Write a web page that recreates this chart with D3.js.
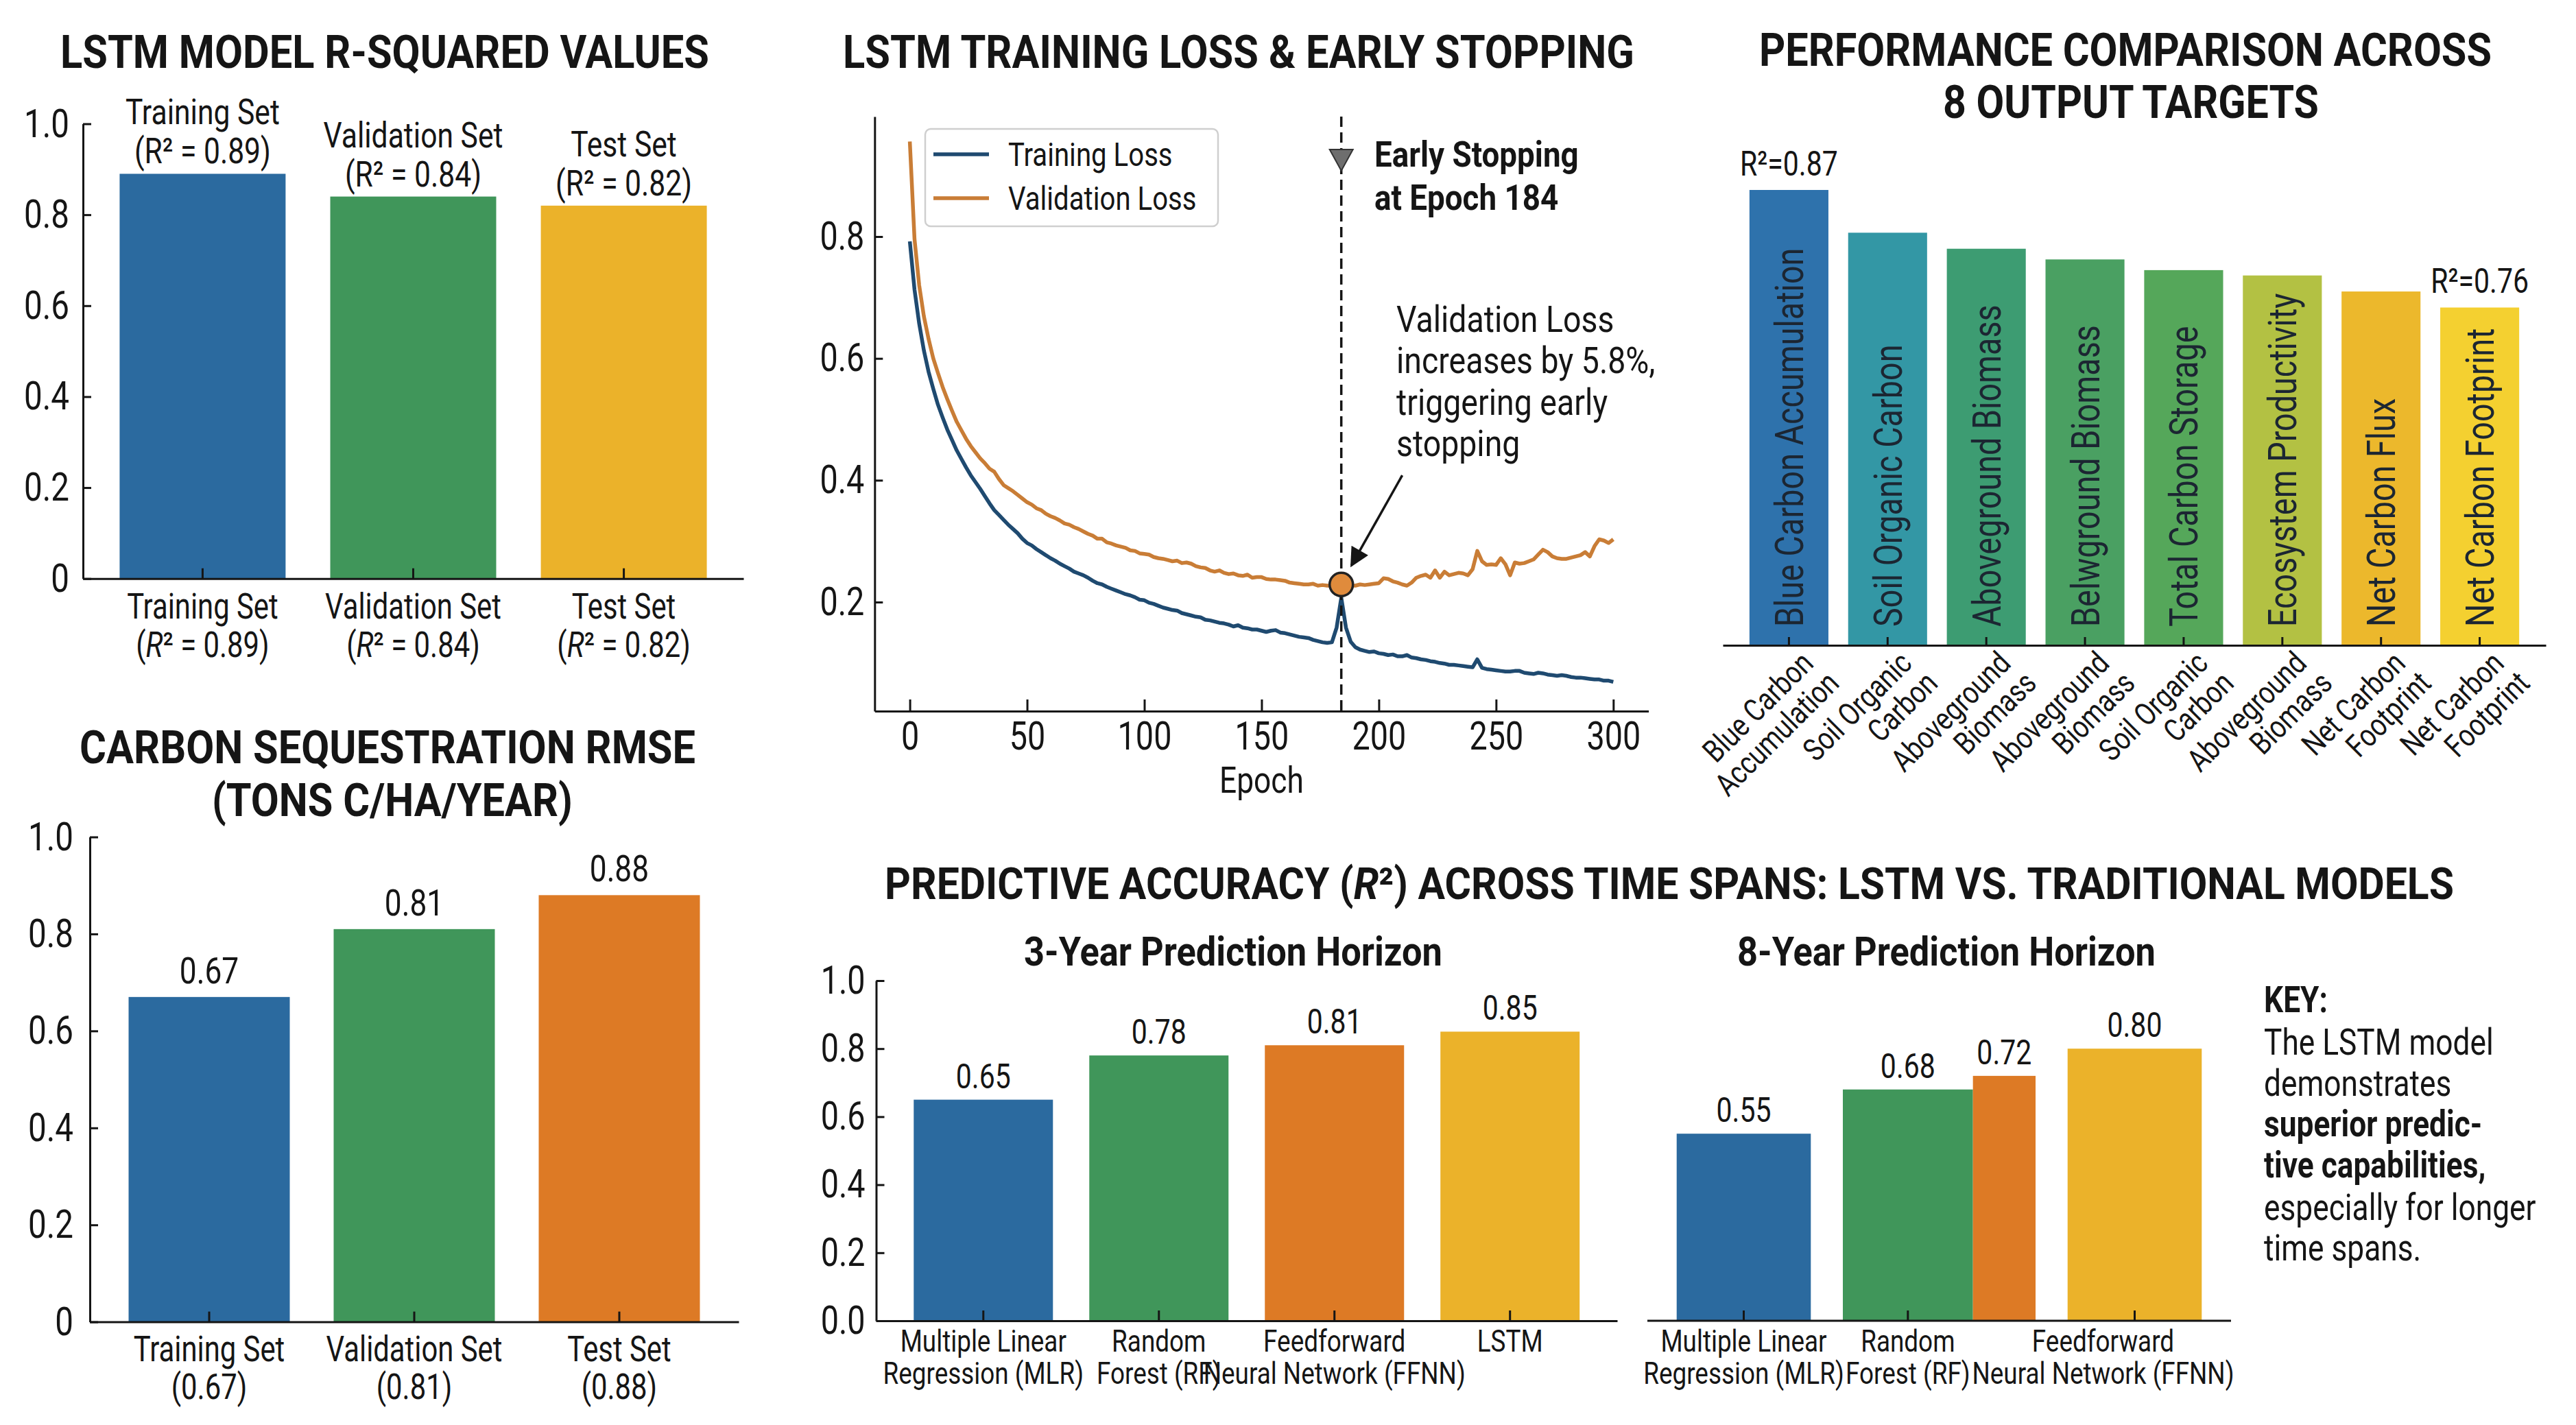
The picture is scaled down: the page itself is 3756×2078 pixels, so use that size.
<!DOCTYPE html>
<html><head><meta charset="utf-8">
<script src="https://cdn.jsdelivr.net/npm/d3@7"></script>
<style>
body{margin:0;background:#fff;overflow:hidden}
svg{display:block;font-family:Roboto,"Noto Sans",sans-serif}
</style></head><body>
<svg id="c" width="3756" height="2078"></svg>
<script>
// ---------------- DATA ----------------
const setNames = ["Training Set","Validation Set","Test Set"];
const r2Values = [0.89, 0.84, 0.82];
const rmseValues = [0.67, 0.81, 0.88];
const unitTicks = [0, 0.2, 0.4, 0.6, 0.8, 1.0];

const lossEpochs = d3.range(0, 301, 2);
const trainLoss = [
0.792,0.713,0.657,0.613,0.578,0.550,0.524,0.503,0.483,0.466,
0.449,0.435,0.421,0.408,0.397,0.386,0.374,0.362,0.351,0.343,
0.335,0.327,0.320,0.313,0.304,0.297,0.293,0.287,0.282,0.277,
0.272,0.268,0.263,0.259,0.255,0.250,0.247,0.244,0.240,0.235,
0.231,0.229,0.225,0.222,0.219,0.216,0.213,0.211,0.208,0.204,
0.203,0.199,0.197,0.194,0.191,0.189,0.187,0.186,0.182,0.180,
0.178,0.176,0.175,0.171,0.170,0.168,0.166,0.165,0.163,0.160,
0.162,0.158,0.157,0.155,0.155,0.153,0.151,0.153,0.154,0.150,
0.149,0.147,0.145,0.143,0.142,0.141,0.138,0.136,0.134,0.133,
0.134,0.158,0.207,0.158,0.135,0.126,0.122,0.120,0.118,0.119,
0.116,0.115,0.113,0.114,0.111,0.111,0.113,0.109,0.108,0.106,
0.105,0.103,0.102,0.100,0.099,0.097,0.097,0.096,0.095,0.094,
0.093,0.106,0.092,0.090,0.089,0.088,0.087,0.086,0.086,0.087,
0.087,0.084,0.083,0.082,0.084,0.083,0.081,0.080,0.079,0.080,
0.079,0.077,0.076,0.076,0.075,0.074,0.073,0.073,0.071,0.071,
0.069];
const valLoss = [
0.956,0.796,0.720,0.669,0.632,0.600,0.576,0.553,0.533,0.514,
0.496,0.482,0.468,0.456,0.446,0.436,0.428,0.419,0.414,0.402,
0.392,0.387,0.382,0.376,0.370,0.364,0.360,0.354,0.351,0.345,
0.341,0.338,0.334,0.329,0.327,0.323,0.320,0.316,0.312,0.309,
0.304,0.304,0.298,0.296,0.293,0.291,0.289,0.285,0.284,0.280,
0.279,0.278,0.274,0.272,0.271,0.269,0.267,0.268,0.264,0.265,
0.263,0.259,0.257,0.256,0.252,0.250,0.252,0.248,0.246,0.247,
0.244,0.243,0.245,0.240,0.241,0.241,0.238,0.237,0.237,0.236,
0.235,0.232,0.231,0.230,0.229,0.229,0.230,0.227,0.228,0.227,
0.227,0.229,0.229,0.227,0.227,0.227,0.229,0.228,0.229,0.230,
0.231,0.239,0.238,0.234,0.232,0.229,0.227,0.232,0.240,0.243,
0.245,0.240,0.252,0.240,0.250,0.244,0.246,0.248,0.247,0.244,
0.254,0.284,0.267,0.261,0.262,0.261,0.272,0.262,0.244,0.265,
0.263,0.264,0.267,0.270,0.278,0.286,0.282,0.275,0.272,0.271,
0.271,0.273,0.275,0.277,0.282,0.275,0.292,0.303,0.301,0.297,
0.303];
const epochTicks = [0, 50, 100, 150, 200, 250, 300];
const lossTicks = [0.2, 0.4, 0.6, 0.8];
const stopEpoch = 184;

const targetNames = ["Blue Carbon Accumulation","Soil Organic Carbon","Aboveground Biomass","Belwground Biomass","Total Carbon Storage","Ecosystem Productivity","Net Carbon Flux","Net Carbon Footprint"];
const targetTickLabels = [["Blue Carbon","Accumulation"],["Soil Organic","Carbon"],["Aboveground","Biomass"],["Aboveground","Biomass"],["Soil Organic","Carbon"],["Aboveground","Biomass"],["Net Carbon","Footprint"],["Net Carbon","Footprint"]];
const targetR2 = [0.87, 0.83, 0.815, 0.805, 0.795, 0.79, 0.775, 0.76];

const models = ["MLR","RF","FFNN","LSTM"];
const modelLabels = [["Multiple Linear","Regression (MLR)"],["Random","Forest (RF)"],["Feedforward","Neural Network (FFNN)"],["LSTM"]];
const acc3yr = [0.65, 0.78, 0.81, 0.85];
const acc8yr = [0.55, 0.68, 0.72, 0.80];

// ---------------- STYLE ----------------
const INK = "#151515";
const BLUE = "#2b6a9f", GREEN = "#40965a", GOLD = "#ebb22a", ORANGE = "#dd7a25";
const targetColors = ["#2e72ac","#3397a5","#3d9c72","#4aa062","#55a75a","#b3c143","#ecb82c","#f4d030"];
const K = 0.82;

const svg = d3.select("#c");
svg.append("rect").attr("width",3756).attr("height",2078).attr("fill","#fff");

function sq(sel, k = K) {
  sel.each(function() {
    const t = d3.select(this);
    const x = +t.attr("x") || 0;
    const tr = t.attr("transform") || "";
    t.attr("transform", `${tr} translate(${x},0) scale(${k},1) translate(${-x},0)`);
  });
  return sel;
}
function txt(g, x, y, s, o = {}) {
  const t = g.append("text").attr("x", x).attr("y", y).text(s)
    .attr("font-size", o.size || 50).attr("text-anchor", o.anchor || "middle")
    .attr("fill", o.fill || INK);
  if (o.bold) t.attr("font-weight", 700);
  if (o.italic) t.attr("font-style", "italic");
  if (o.len) t.attr("textLength", o.len).attr("lengthAdjust", "spacingAndGlyphs");
  else sq(t, o.k || K);
  return t;
}
function styleAxis(g, fs) {
  g.attr("font-family", null).attr("font-size", fs);
  g.selectAll("path,line").attr("stroke", INK).attr("stroke-width", 3);
  g.selectAll("text").attr("fill", INK);
  sq(g.selectAll("text"));
}
const fmt0 = d => d === 0 ? "0" : d.toFixed(1);

// ============ PANEL 1: R-squared ============
{
  const g = svg.append("g");
  const x = d3.scaleBand().domain(setNames).range([121, 1084]).paddingInner(0.212).paddingOuter(0.174);
  const y = d3.scaleLinear().domain([0, 1]).range([843.7, 180.5]);
  txt(g, 561, 99, "LSTM MODEL R-SQUARED VALUES", {size: 66, bold: true, len: 946});
  g.selectAll("rect.bar").data(setNames).join("rect").attr("class","bar")
    .attr("x", d => x(d)).attr("width", x.bandwidth())
    .attr("y", (d, i) => y(r2Values[i])).attr("height", (d, i) => y(0) - y(r2Values[i]))
    .attr("fill", (d, i) => [BLUE, GREEN, GOLD][i]);
  const ya = g.append("g").attr("transform", `translate(${x.range()[0]},0)`)
    .call(d3.axisLeft(y).tickValues(unitTicks).tickFormat(fmt0).tickSize(-12).tickSizeOuter(0).tickPadding(20));
  styleAxis(ya, 58);
  const xa = g.append("g").attr("transform", `translate(0,${y(0)})`)
    .call(d3.axisBottom(x).tickSize(-15).tickSizeOuter(0).tickFormat(""));
  styleAxis(xa, 50);
  setNames.forEach((n, i) => {
    const cx = x(n) + x.bandwidth() / 2, top = y(r2Values[i]);
    txt(g, cx, top - 72, n, {size: 52});
    txt(g, cx, top - 15, `(R² = ${r2Values[i].toFixed(2)})`, {size: 52});
    txt(g, cx, 902, n, {size: 51});
    const t = g.append("text").attr("x", cx).attr("y", 958).attr("font-size", 51).attr("text-anchor", "middle").attr("fill", INK);
    t.append("tspan").text("(");
    t.append("tspan").attr("font-style", "italic").text("R");
    t.append("tspan").text(`² = ${r2Values[i].toFixed(2)})`);
    sq(t);
  });
}

// ============ PANEL 2: Loss curves ============
{
  const g = svg.append("g");
  const x = d3.scaleLinear().domain([-15, 315]).range([1275.3, 2403.6]);
  const y = d3.scaleLinear().domain([0.021, 0.997]).range([1037, 170]);
  txt(g, 1806, 99, "LSTM TRAINING LOSS & EARLY STOPPING", {size: 66, bold: true, len: 1154});
  const xa = g.append("g").attr("transform", `translate(0,${y.range()[0]})`)
    .call(d3.axisBottom(x).tickValues(epochTicks).tickSize(-17).tickSizeOuter(0).tickPadding(16));
  styleAxis(xa, 57);
  const ya = g.append("g").attr("transform", `translate(${x.range()[0]},0)`)
    .call(d3.axisLeft(y).tickValues(lossTicks).tickFormat(d => d.toFixed(1)).tickSize(-12).tickSizeOuter(0).tickPadding(15));
  styleAxis(ya, 57);
  txt(g, (x.range()[0] + x.range()[1]) / 2, 1156, "Epoch", {size: 54});

  const line = (vals) => d3.line().x((d, i) => x(lossEpochs[i])).y(d => y(d))(vals);
  g.append("path").attr("d", line(valLoss)).attr("fill", "none").attr("stroke", "#c97d36").attr("stroke-width", 5.5).attr("stroke-linejoin", "round");
  g.append("path").attr("d", line(trainLoss)).attr("fill", "none").attr("stroke", "#1f4a70").attr("stroke-width", 5.5).attr("stroke-linejoin", "round");

  const sx = x(stopEpoch);
  g.append("line").attr("x1", sx).attr("x2", sx).attr("y1", y.range()[1]).attr("y2", y.range()[0])
    .attr("stroke", INK).attr("stroke-width", 3.5).attr("stroke-dasharray", "15,8");
  g.append("path").attr("d", `M${sx - 17},218 L${sx + 17},218 L${sx},249 Z`).attr("fill", "#6e6e6e").attr("stroke", "#333").attr("stroke-width", 2);
  txt(g, 2004, 243, "Early Stopping", {size: 52, bold: true, anchor: "start", k: 0.88});
  txt(g, 2004, 306, "at Epoch 184", {size: 52, bold: true, anchor: "start", k: 0.88});
  ["Validation Loss", "increases by 5.8%,", "triggering early", "stopping"].forEach((s, i) =>
    txt(g, 2036, 484 + i * 60.5, s, {size: 54, anchor: "start", k: 0.86}));

  const defs = svg.append("defs");
  defs.append("marker").attr("id", "ah").attr("viewBox", "0 0 10 10").attr("refX", 9).attr("refY", 5)
    .attr("markerWidth", 9).attr("markerHeight", 8).attr("orient", "auto")
    .append("path").attr("d", "M0,0 L10,5 L0,10 z").attr("fill", INK);
  g.append("line").attr("x1", x(210)).attr("y1", y(0.408)).attr("x2", x(188.3)).attr("y2", y(0.26))
    .attr("stroke", INK).attr("stroke-width", 3.5).attr("marker-end", "url(#ah)");

  const vStop = valLoss[lossEpochs.indexOf(stopEpoch)];
  g.append("circle").attr("cx", sx).attr("cy", y(vStop)).attr("r", 17).attr("fill", "#e08b3c").attr("stroke", "#222").attr("stroke-width", 3.5);

  // legend
  g.append("rect").attr("x", 1349).attr("y", 188).attr("width", 427).attr("height", 142).attr("rx", 8)
    .attr("fill", "#fff").attr("stroke", "#cfcfcf").attr("stroke-width", 2.5);
  [["Training Loss", "#1f4a70"], ["Validation Loss", "#c97d36"]].forEach(([s, c], i) => {
    const yy = 225 + i * 64;
    g.append("line").attr("x1", 1361).attr("x2", 1442).attr("y1", yy).attr("y2", yy).attr("stroke", c).attr("stroke-width", 5.5);
    txt(g, 1470, yy + 17, s, {size: 49, anchor: "start"});
  });
}

// ============ PANEL 3: 8 output targets ============
{
  const g = svg.append("g");
  const x = d3.scaleBand().domain(targetNames).range([2512, 3712]).paddingInner(0.2).paddingOuter(0.27);
  const y = d3.scaleLinear().domain([0.444, 0.87]).range([941, 277]);
  txt(g, 3099, 96, "PERFORMANCE COMPARISON ACROSS", {size: 66, bold: true, len: 1068});
  txt(g, 3107, 172, "8 OUTPUT TARGETS", {size: 66, bold: true, len: 548});
  g.selectAll("rect.bar").data(targetNames).join("rect").attr("class","bar")
    .attr("x", d => x(d)).attr("width", x.bandwidth())
    .attr("y", (d, i) => y(targetR2[i])).attr("height", (d, i) => y.range()[0] - y(targetR2[i]))
    .attr("fill", (d, i) => targetColors[i]);
  targetNames.forEach((n, i) => {
    const cx = x(n) + x.bandwidth() / 2;
    const t = g.append("text").attr("transform", `translate(${cx},914) rotate(-90)`).attr("x", 0).attr("y", 0)
      .attr("dy", "0.36em").attr("font-size", 57).attr("fill", "#1c2632").attr("text-anchor", "start").text(n);
    sq(t);
    const lab = g.append("g").attr("transform", `translate(${cx + 38},970) rotate(-45)`);
    targetTickLabels[i].forEach((s, j) => txt(lab, j * 6, j * 47, s, {size: 46, anchor: "end"}));
  });
  [0, targetNames.length - 1].forEach(i => {
    const n = targetNames[i];
    const t = g.append("text").attr("x", x(n) + x.bandwidth() / 2).attr("y", y(targetR2[i]) - 21)
      .attr("font-size", 50).attr("text-anchor", "middle").attr("fill", INK).text(`R²=${targetR2[i].toFixed(2)}`);
    sq(t);
  });
  const xa = g.append("g").attr("transform", `translate(0,${y.range()[0]})`)
    .call(d3.axisBottom(x).tickSize(-12).tickSizeOuter(0).tickFormat(""));
  styleAxis(xa, 40);
}

// ============ PANEL 4: RMSE ============
{
  const g = svg.append("g");
  const x = d3.scaleBand().domain(setNames).range([131, 1077]).paddingInner(0.214).paddingOuter(0.189);
  const y = d3.scaleLinear().domain([0, 1]).range([1927.6, 1220.5]);
  txt(g, 565, 1113, "CARBON SEQUESTRATION RMSE", {size: 66, bold: true, len: 898});
  txt(g, 572, 1190, "(TONS C/HA/YEAR)", {size: 66, bold: true, len: 526});
  g.selectAll("rect.bar").data(setNames).join("rect").attr("class","bar")
    .attr("x", d => x(d)).attr("width", x.bandwidth())
    .attr("y", (d, i) => y(rmseValues[i])).attr("height", (d, i) => y(0) - y(rmseValues[i]))
    .attr("fill", (d, i) => [BLUE, GREEN, ORANGE][i]);
  const ya = g.append("g").attr("transform", `translate(${x.range()[0]},0)`)
    .call(d3.axisLeft(y).tickValues(unitTicks).tickFormat(fmt0).tickSize(-12).tickSizeOuter(0).tickPadding(24));
  styleAxis(ya, 58);
  const xa = g.append("g").attr("transform", `translate(0,${y(0)})`)
    .call(d3.axisBottom(x).tickSize(-15).tickSizeOuter(0).tickFormat(""));
  styleAxis(xa, 50);
  setNames.forEach((n, i) => {
    const cx = x(n) + x.bandwidth() / 2;
    txt(g, cx, y(rmseValues[i]) - 20, rmseValues[i].toFixed(2), {size: 54});
    txt(g, cx, 1985, n, {size: 51});
    txt(g, cx, 2040, `(${rmseValues[i].toFixed(2)})`, {size: 51});
  });
}

// ============ PANEL 5/6: time spans ============
{
  const g = svg.append("g");
  const t = g.append("text").attr("x", 2434).attr("y", 1311).attr("font-size", 64).attr("font-weight", 700)
    .attr("text-anchor", "middle").attr("fill", INK).attr("textLength", 2288).attr("lengthAdjust", "spacingAndGlyphs");
  t.append("tspan").text("PREDICTIVE ACCURACY (");
  t.append("tspan").attr("font-style", "italic").text("R");
  t.append("tspan").text("²) ACROSS TIME SPANS: LSTM VS. TRADITIONAL MODELS");
  txt(g, 1798, 1408, "3-Year Prediction Horizon", {size: 60, bold: true, len: 610});
  txt(g, 2838, 1408, "8-Year Prediction Horizon", {size: 60, bold: true, len: 610});

  const y = d3.scaleLinear().domain([0, 1]).range([1926, 1430]);
  const colors = [BLUE, GREEN, ORANGE, GOLD];

  // 3-year
  const x5 = d3.scaleBand().domain(models).range([1277.5, 2358]).paddingInner(0.207).paddingOuter(0.214);
  g.selectAll("rect.b5").data(models).join("rect").attr("class","b5")
    .attr("x", d => x5(d)).attr("width", x5.bandwidth())
    .attr("y", (d, i) => y(acc3yr[i])).attr("height", (d, i) => y(0) - y(acc3yr[i]))
    .attr("fill", (d, i) => colors[i]);
  const ya = g.append("g").attr("transform", `translate(${x5.range()[0]},0)`)
    .call(d3.axisLeft(y).tickValues(unitTicks).tickFormat(d3.format(".1f")).tickSize(-12).tickSizeOuter(0).tickPadding(16));
  styleAxis(ya, 57);
  const xa = g.append("g").attr("transform", `translate(0,${y(0)})`)
    .call(d3.axisBottom(x5).tickSize(-15).tickSizeOuter(0).tickFormat(""));
  styleAxis(xa, 44);
  models.forEach((m, i) => {
    const cx = x5(m) + x5.bandwidth() / 2;
    txt(g, cx, y(acc3yr[i]) - 17, acc3yr[i].toFixed(2), {size: 50});
    modelLabels[i].forEach((s, j) => txt(g, cx, 1971 + j * 47, s, {size: 45}));
  });

  // 8-year : RF and FFNN share the middle slot
  const slots = ["s0", "s1", "s2"];
  const slotOf = ["s0", "s1", "s1", "s2"];
  const span = [[0.152, 0.848], [0.0, 0.675], [0.675, 1.0], [0.152, 0.848]];
  const x6 = d3.scaleBand().domain(slots).range([2402, 3253]).paddingInner(0.014).paddingOuter(0);
  const bx = i => x6(slotOf[i]) + span[i][0] * x6.bandwidth();
  const bw = i => (span[i][1] - span[i][0]) * x6.bandwidth();
  g.selectAll("rect.b6").data(models).join("rect").attr("class","b6")
    .attr("x", (d, i) => bx(i)).attr("width", (d, i) => bw(i))
    .attr("y", (d, i) => y(acc8yr[i])).attr("height", (d, i) => y(0) - y(acc8yr[i]))
    .attr("fill", (d, i) => colors[i]);
  g.append("line").attr("x1", x6.range()[0]).attr("x2", x6.range()[1]).attr("y1", y(0)).attr("y2", y(0))
    .attr("stroke", INK).attr("stroke-width", 3);
  models.forEach((m, i) => {
    const cx = bx(i) + bw(i) / 2;
    txt(g, cx, y(acc8yr[i]) - 17, acc8yr[i].toFixed(2), {size: 50});
  });
  [0, 1, 3].forEach((bi, li) => {
    const cx = bx(bi) + bw(bi) / 2;
    g.append("line").attr("x1", cx).attr("x2", cx).attr("y1", y(0)).attr("y2", y(0) - 15).attr("stroke", INK).attr("stroke-width", 3);
    const lx = li === 2 ? cx - 46 : cx;
    modelLabels[li].forEach((s, j) => txt(g, lx, 1971 + j * 47, s, {size: 45}));
  });

  // key
  const key = [["KEY:", true], ["The LSTM model", false], ["demonstrates", false], ["superior predic-", true],
               ["tive capabilities,", true], ["especially for longer", false], ["time spans.", false]];
  const ky = [1476, 1538, 1598, 1657, 1717, 1779, 1838];
  key.forEach(([s, b], i) => txt(g, 3301, ky[i], s, {size: 54, bold: b, anchor: "start"}));
}
</script>
</body></html>
